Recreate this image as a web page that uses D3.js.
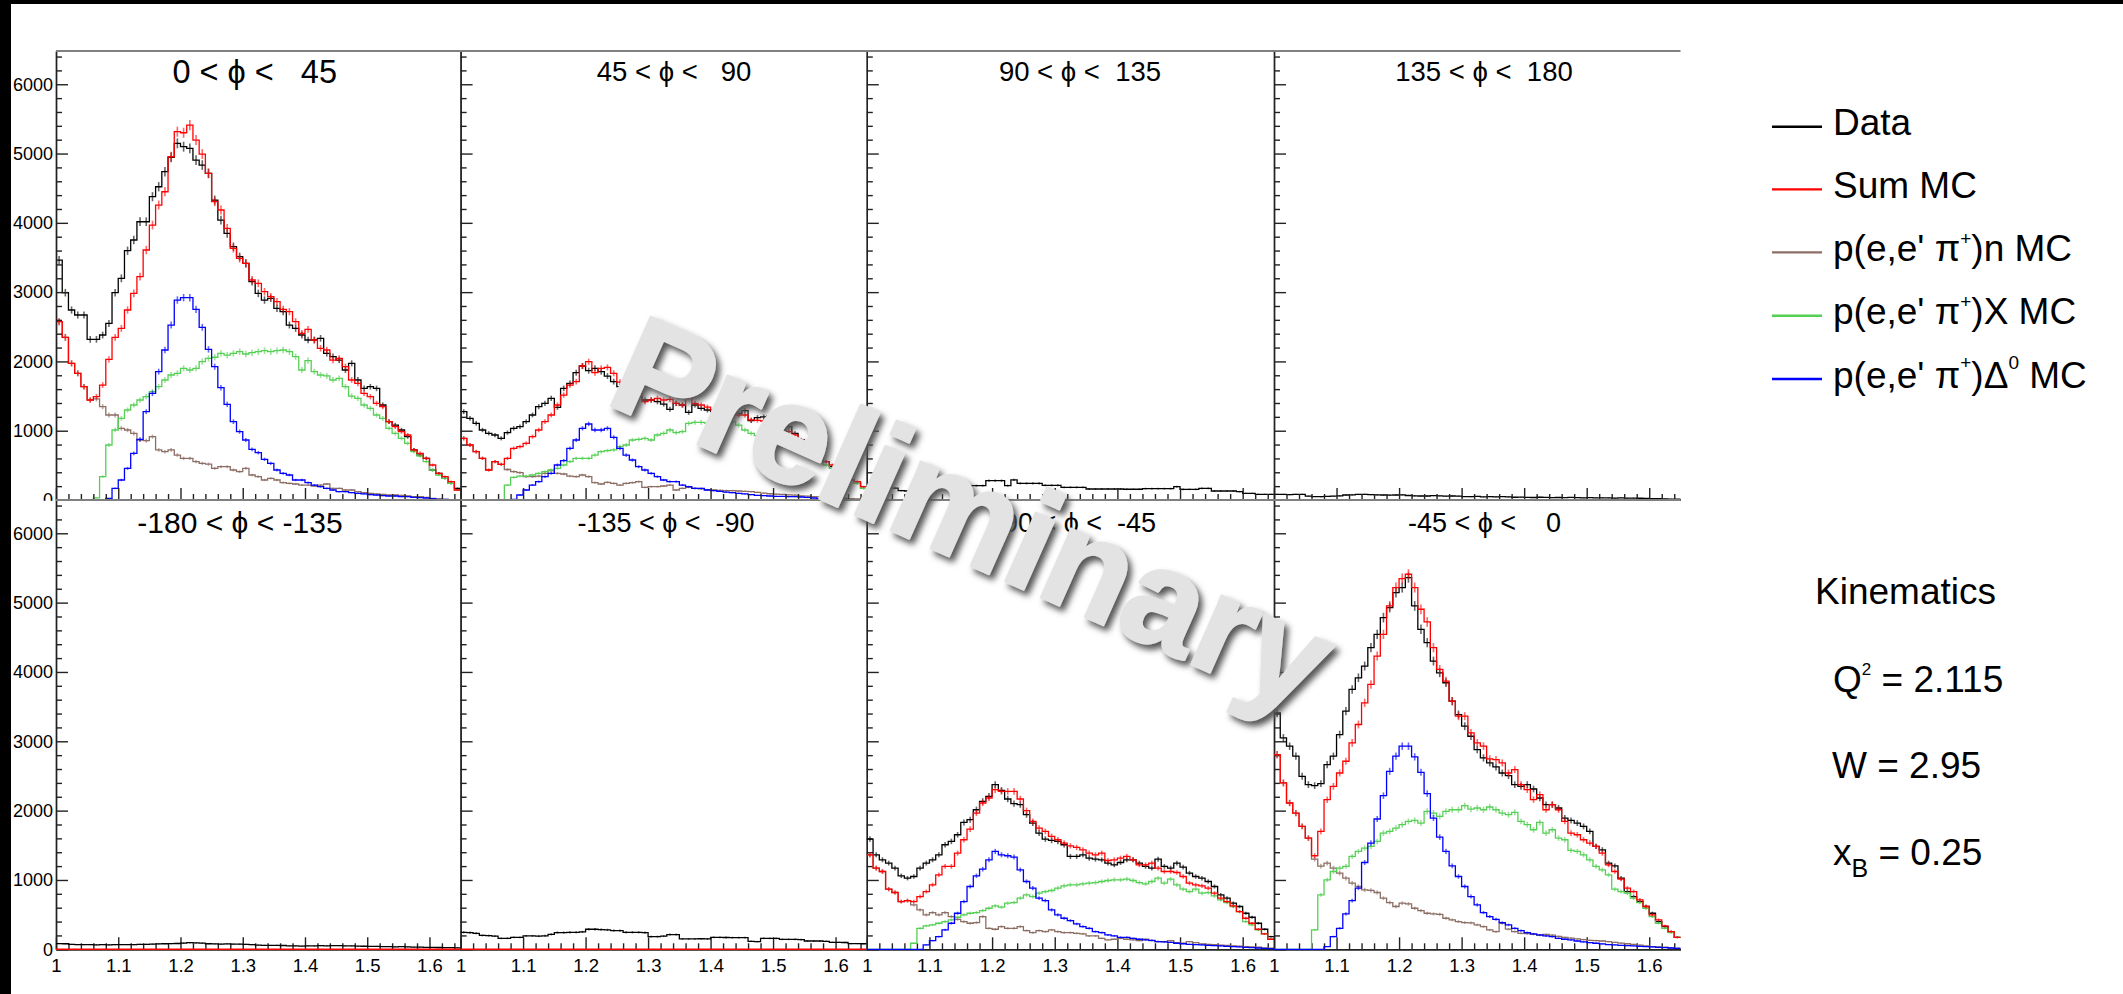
<!DOCTYPE html>
<html>
<head>
<meta charset="utf-8">
<script src="https://d3js.org/d3.v7.min.js"></script>
<style>
  body { margin: 0; background: #fff; }
  svg { display: block; }
  text { font-family: "Liberation Sans", Arial, Helvetica, sans-serif; }
</style>
</head>
<body>
<div id="chart"></div>
<script>
// missing mass binning: 65 bins of 0.01 starting at 1.0
const xLow = 1.0, binW = 0.01, nBin = 65;
const yMax = 6480;

const phiTitles = ["0 < \u03d5 <   45", "45 < \u03d5 <   90", "90 < \u03d5 <  135", "135 < \u03d5 <  180",
                   "-180 < \u03d5 < -135", "-135 < \u03d5 <  -90", "-90 < \u03d5 <  -45", "-45 < \u03d5 <    0"];

const yTicks = [0, 1000, 2000, 3000, 4000, 5000, 6000];
const xTicks = [1, 1.1, 1.2, 1.3, 1.4, 1.5, 1.6];

// 0 < phi < 45
const data_0_45 = [3463,2992,2742,2670,2670,2318,2318,2381,2549,2992,3199,3598,3752,4016,4016,4377,4521,4738,4945,5147,5099,5075,4906,4834,4714,4329,4040,3848,3656,3511,3415,3151,2982,2886,2910,2766,2718,2525,2477,2381,2309,2309,2333,2116,2068,2020,1876,1972,1732,1611,1635,1611,1371,1130,1082,1010,914,722,649,601,433,385,313,240,168];
const sum_0_45 = [2573,2347,1972,1828,1635,1443,1491,1659,2030,2347,2477,2742,2982,3223,3608,3968,4257,4449,4954,5315,5300,5411,5195,4993,4714,4305,4185,3920,3632,3487,3415,3175,3127,3006,2934,2862,2751,2718,2573,2405,2463,2309,2189,2165,2020,2044,1924,1732,1684,1539,1491,1395,1347,1130,1058,986,938,722,673,601,505,385,337,265,144];
const n_0_45 = [2573,2347,1972,1828,1635,1443,1460,1347,1227,1227,1034,1010,962,866,856,914,722,697,722,649,601,601,553,529,519,457,481,481,433,409,457,361,337,289,313,289,250,240,231,216,216,202,216,231,168,168,144,144,120,106,96,87,82,72,72,67,58,48,48,38,24,15,10,5,3];
const X_0_45 = [0,0,0,0,0,0,30,337,794,1010,1178,1299,1371,1443,1491,1563,1635,1732,1804,1828,1900,1876,1900,1996,2044,2060,2116,2092,2116,2140,2107,2126,2140,2155,2140,2155,2165,2140,2068,1876,2011,1852,1804,1790,1732,1756,1635,1500,1467,1371,1323,1227,1178,1034,962,890,818,697,635,553,433,361,313,240,144];
const delta_0_45 = [0,0,0,0,0,0,0,0,24,168,289,457,673,875,1275,1539,1852,2165,2525,2886,2920,2920,2751,2492,2174,1924,1621,1380,1130,986,866,731,683,587,529,433,385,361,289,289,250,216,192,168,144,120,120,106,96,87,77,72,63,58,58,48,48,38,34,29,19,10,10,5,5];

// 45 < phi < 90
const data_45_90 = [1275,1178,1106,1010,962,938,890,972,1034,1058,1130,1227,1347,1395,1467,1337,1611,1684,1837,1934,1866,1900,1852,1789,1708,1635,1563,1587,1491,1443,1443,1419,1385,1308,1395,1371,1265,1371,1323,1299,1275,1275,1308,1299,1251,1289,1145,1190,1200,1210,1203,1130,1058,962,866,794,722,649,553,481,409,361,289,240,168];
const sum_45_90 = [890,794,697,601,433,553,515,601,746,770,818,914,1010,1130,1227,1371,1515,1659,1708,1934,1996,1837,1900,1914,1828,1700,1640,1611,1587,1419,1443,1467,1443,1452,1395,1371,1491,1395,1371,1340,1300,1251,1323,1337,1227,1227,1155,1150,1140,1160,1116,1068,986,938,860,790,674,625,553,505,385,337,289,265,192];
const n_45_90 = [890,794,697,601,433,553,515,440,409,394,337,337,346,385,423,385,375,346,337,361,337,250,231,255,240,216,240,250,264,183,192,192,202,216,144,168,183,168,160,150,145,140,135,135,130,125,120,110,100,90,85,80,75,70,60,55,50,45,40,35,30,25,20,15,10];
const X_45_90 = [0,0,0,0,0,0,0,216,327,346,346,361,385,409,433,457,505,553,601,601,601,649,697,712,722,770,794,866,875,890,866,938,962,1010,972,986,1106,1120,1120,1110,1080,1034,1116,1130,1082,1010,962,930,900,870,840,800,760,720,680,640,601,587,505,457,361,313,289,240,168];
const delta_45_90 = [0,0,0,0,0,0,0,0,10,72,144,216,265,337,385,505,568,746,866,1034,1097,1010,1010,1034,904,746,649,577,481,433,385,337,289,265,265,216,192,168,168,144,135,125,115,106,96,87,77,67,63,58,53,53,48,48,43,38,29,19,14,14,10,10,5,5,3];

// 90 < phi < 135 and 135 < phi < 180: data only
const data_90_135 = [180,175,178,175,172,135,130,135,130,135,140,180,190,195,190,185,207,207,207,279,279,279,207,290,240,240,240,240,212,212,212,183,183,183,183,159,159,159,159,159,159,155,155,155,164,164,164,164,164,192,154,154,154,168,168,130,130,130,130,120,96,96,82,82,82];
const data_135_180 = [82,80,78,82,80,55,50,48,52,55,60,72,75,80,82,78,75,72,70,72,74,65,60,58,58,62,60,55,58,56,50,48,52,45,48,46,50,44,40,42,38,36,40,38,35,36,34,38,34,32,34,30,32,30,28,30,26,28,25,22,20,18,16,14,12];

// -180 < phi < -135 and -135 < phi < -90: data only
const data_m180_m135 = [82,80,70,68,66,67,65,68,64,66,68,67,66,70,72,75,78,80,82,84,90,95,92,88,80,78,76,77,75,74,72,66,60,58,56,58,55,50,48,47,50,48,52,50,54,52,50,48,45,44,42,43,40,38,36,38,34,32,30,28,27,26,25,24,22];
const data_m135_m90 = [245,240,231,200,197,190,159,159,173,173,193,193,190,195,215,241,241,245,245,250,289,289,285,280,270,270,245,245,245,240,183,183,190,212,212,149,149,149,152,149,173,173,170,168,168,168,115,111,159,159,159,144,144,144,140,120,120,120,115,101,101,98,82,82,80];

// -90 < phi < -45
const data_m90_m45 = [1590,1363,1291,1243,1171,1060,1026,1050,1171,1243,1291,1363,1508,1556,1652,1830,1869,2013,2134,2206,2375,2293,2168,2100,2086,1941,1821,1676,1590,1570,1556,1508,1339,1339,1363,1315,1300,1291,1243,1219,1252,1291,1291,1243,1195,1171,1300,1195,1171,1243,1185,1098,1050,1026,978,906,785,737,665,617,520,462,376,289,183];
const sum_m90_m45 = [1363,1171,1122,867,819,689,703,689,761,833,930,1074,1195,1195,1387,1580,1734,1965,2110,2182,2302,2278,2278,2278,2168,1999,1845,1749,1700,1628,1580,1532,1493,1469,1435,1387,1363,1387,1281,1291,1315,1339,1291,1219,1219,1243,1171,1122,1122,1108,1050,954,930,915,882,809,737,689,626,544,448,376,289,222,145];
const n_m90_m45 = [1363,1171,1122,867,819,689,703,641,568,496,530,496,530,472,433,400,376,386,472,303,289,328,303,303,328,270,241,270,255,279,255,241,241,231,222,193,193,159,135,145,159,145,135,125,145,125,111,111,125,96,87,111,96,77,72,67,60,55,50,45,40,35,30,20,15];
const X_m90_m45 = [0,0,0,0,0,0,0,87,303,337,352,376,400,424,462,496,520,530,559,592,626,607,665,674,737,785,761,809,833,848,882,915,930,930,944,954,963,978,992,1002,1002,1012,992,963,944,978,1026,954,1012,930,867,833,867,809,818,771,713,674,617,544,400,352,279,222,145];
const delta_m90_m45 = [0,0,0,0,0,0,0,0,0,63,125,183,279,376,520,689,906,1060,1156,1291,1411,1363,1349,1330,1146,978,882,737,703,568,496,448,414,366,328,303,255,241,207,193,173,173,159,145,135,130,111,106,100,87,80,72,68,63,58,53,48,43,38,34,29,24,19,14,10];

// -45 < phi < 0
const data_m45_0 = [3410,3049,2929,2785,2495,2375,2360,2389,2664,2785,3097,3435,3748,3916,4085,4350,4542,4783,4928,5144,5217,5361,4952,4615,4422,4157,3988,3844,3579,3386,3218,3073,2881,2760,2688,2630,2543,2505,2375,2351,2375,2312,2182,2086,2086,2038,1893,1859,1821,1773,1700,1484,1435,1243,1204,1026,833,761,689,617,520,400,328,255,173];
const sum_m45_0 = [2808,2399,2110,1965,1773,1604,1349,1700,2158,2351,2543,2712,2977,3242,3555,3820,4229,4542,4952,5217,5347,5409,5217,4904,4721,4350,4037,3868,3579,3362,3362,3121,2977,2929,2746,2736,2688,2543,2592,2375,2302,2158,2230,2013,2086,2013,1845,1676,1652,1580,1532,1484,1387,1219,1122,1012,882,833,713,617,496,424,337,255,173];
const n_m45_0 = [2808,2399,2110,1965,1773,1604,1300,1200,1243,1171,1098,1026,954,906,857,850,819,737,674,617,665,655,592,559,520,511,505,448,424,400,385,380,352,328,279,255,376,290,255,231,225,215,200,215,205,185,170,160,150,140,130,125,120,110,100,90,80,70,60,50,40,35,30,20,15];
const X_m45_0 = [0,0,0,0,0,0,279,785,1002,1122,1171,1195,1339,1411,1460,1484,1556,1676,1700,1749,1797,1845,1859,1821,1989,1965,1917,1989,2013,2013,2071,2023,2038,2013,2052,2013,1965,1941,1975,1845,1797,1724,1830,1676,1724,1604,1580,1426,1411,1363,1291,1195,1146,1074,867,833,809,737,674,592,472,376,303,241,173];
const delta_m45_0 = [0,0,0,0,0,0,0,0,39,183,303,511,703,882,1252,1532,1879,2216,2567,2785,2929,2929,2775,2553,2245,1893,1619,1411,1204,1050,906,761,641,530,472,433,385,352,303,270,241,222,207,193,183,159,145,135,120,106,96,87,77,67,63,58,53,48,43,38,34,29,24,19,14];

const legendLabels = ["Data", "Sum MC", "p(e,e' \u03c0^{+})n MC", "p(e,e' \u03c0^{+})X MC", "p(e,e' \u03c0^{+})\u0394^{0} MC"];
const legendColors = ["#000000", "#ff0000", "#8c6e64", "#55d055", "#0000ff"];
const kinematicsLines = ["Kinematics", "Q^{2} = 2.115", "W = 2.95", "x_{B} = 0.25"];

const panels = [
  { title: phiTitles[0], data: data_0_45, mc: [sum_0_45, n_0_45, X_0_45, delta_0_45] },
  { title: phiTitles[1], data: data_45_90, mc: [sum_45_90, n_45_90, X_45_90, delta_45_90] },
  { title: phiTitles[2], data: data_90_135, mc: null },
  { title: phiTitles[3], data: data_135_180, mc: null },
  { title: phiTitles[4], data: data_m180_m135, mc: null },
  { title: phiTitles[5], data: data_m135_m90, mc: null },
  { title: phiTitles[6], data: data_m90_m45, mc: [sum_m90_m45, n_m90_m45, X_m90_m45, delta_m90_m45] },
  { title: phiTitles[7], data: data_m45_0, mc: [sum_m45_0, n_m45_0, X_m45_0, delta_m45_0] }
];

// layout
const W = 2123, H = 994;
const colLeft = [56, 460.6, 866.8, 1274, 1680.5];
const rowTop = [51, 500], rowBot = [500, 949.3];
const titleX = [254.7, 674, 1080, 1484, 240, 666, 1075, 1484.5];
const titleY = [83.3, 80.7, 80.7, 80.7, 533.3, 531.7, 531.7, 531.7];
const titleSize = [32.5, 27.5, 27.5, 27.5, 30, 27, 27, 27];
const axisColor = "#222";
// sum MC goes on top of its components
const drawOrder = [1, 2, 3, 0];

const svg = d3.select('#chart')
  .append('svg')
  .attr('width', W)
  .attr('height', H);

svg.append('rect').attr('width', W).attr('height', H).attr('fill', '#fff');

// TLatex-ish: ^{..} superscript, _{..} subscript
function latex(textSel, str, supSize, supShift, subSize, subShift) {
  const parts = str.split(/(\^\{[^}]*\}|_\{[^}]*\})/).filter(s => s.length);
  let back = 0;
  parts.forEach(s => {
    if (s.startsWith('^{')) {
      textSel.append('tspan').attr('dy', back - supShift).style('font-size', supSize + 'px').text(s.slice(2, -1));
      back = supShift;
    } else if (s.startsWith('_{')) {
      textSel.append('tspan').attr('dy', back + subShift).style('font-size', subSize + 'px').text(s.slice(2, -1));
      back = -subShift;
    } else {
      textSel.append('tspan').attr('dy', back).text(s);
      back = 0;
    }
  });
}

function histPath(vals, x, y) {
  const pts = vals.map((v, i) => [x(xLow + i * binW), y(v)]);
  pts.push([x(xLow + nBin * binW), y(vals[nBin - 1])]);
  return d3.line().curve(d3.curveStepAfter)(pts);
}

function drawHist(g, vals, color, x, y) {
  g.append('path')
    .attr('d', histPath(vals, x, y))
    .attr('fill', 'none')
    .attr('stroke', color)
    .attr('stroke-width', 1.3);
  g.selectAll(null)
    .data(vals.map((v, i) => ({ v: v, i: i })).filter(d => d.v > 0))
    .enter()
    .append('line')
    .attr('x1', d => x(xLow + (d.i + 0.5) * binW))
    .attr('x2', d => x(xLow + (d.i + 0.5) * binW))
    .attr('y1', d => y(d.v + Math.sqrt(d.v)))
    .attr('y2', d => y(d.v - Math.sqrt(d.v)))
    .attr('stroke', color)
    .attr('stroke-opacity', 0.6)
    .attr('stroke-width', 1.6);
}

function drawPanel(p, idx) {
  const col = idx % 4, row = Math.floor(idx / 4);
  const x = d3.scaleLinear().domain([xLow, xLow + nBin * binW]).range([colLeft[col], colLeft[col + 1]]);
  const y = d3.scaleLinear().domain([0, yMax]).range([rowBot[row], rowTop[row]]);
  const g = svg.append('g');

  const drawAxes = () => {
    const minorY = d3.range(0, yMax + 1, 200).filter(v => v % 1000 !== 0);
    const minorX = d3.range(0, 66, 2).map(k => xLow + k * 0.01).filter(v => Math.round(v * 100) % 10 !== 0);
    g.append('g').attr('transform', `translate(${colLeft[col]},0)`)
      .call(d3.axisRight(y).tickValues(minorY).tickSize(6).tickSizeOuter(0).tickFormat(''));
    g.append('g').attr('transform', `translate(${colLeft[col]},0)`)
      .call(d3.axisRight(y).tickValues(yTicks).tickSize(12).tickSizeOuter(0).tickFormat(''));
    g.append('g').attr('transform', `translate(0,${rowBot[row]})`)
      .call(d3.axisTop(x).tickValues(minorX).tickSize(6).tickSizeOuter(0).tickFormat(''));
    g.append('g').attr('transform', `translate(0,${rowBot[row]})`)
      .call(d3.axisTop(x).tickValues(xTicks).tickSize(12).tickSizeOuter(0).tickFormat(''));
    g.selectAll('.domain, .tick line').attr('stroke', axisColor).attr('stroke-width', 1.4);
    // top frame
    g.append('line')
      .attr('x1', colLeft[col]).attr('x2', colLeft[col + 1])
      .attr('y1', rowTop[row]).attr('y2', rowTop[row])
      .attr('stroke', '#808080').attr('stroke-width', 2);
  };

  const drawHists = () => {
    drawHist(g, p.data, legendColors[0], x, y);
    if (p.mc) {
      drawOrder.forEach(k => drawHist(g, p.mc[k], legendColors[k + 1], x, y));
    } else {
      // empty Monte Carlo sum sits on zero
      g.append('line')
        .attr('x1', x(xLow)).attr('x2', x(xLow + nBin * binW))
        .attr('y1', y(0)).attr('y2', y(0))
        .attr('stroke', legendColors[1]).attr('stroke-width', 1.6);
    }
  };

  if (row === 0) { drawHists(); drawAxes(); } else { drawAxes(); drawHists(); }

  // x labels only on bottom row
  if (row === 1) {
    const ax = g.append('g').attr('transform', `translate(0,${rowBot[row]})`)
      .call(d3.axisBottom(x).tickValues(xTicks).tickSize(0).tickPadding(9.6).tickFormat(d3.format('.1~f')));
    ax.select('.domain').remove();
    ax.selectAll('text').style('font-size', '18.5px').attr('fill', '#000');
  }
  // y labels only in first column
  if (col === 0) {
    const ay = g.append('g').attr('transform', `translate(${colLeft[0]},0)`)
      .call(d3.axisLeft(y).tickValues(yTicks).tickSize(0).tickPadding(3).tickFormat(d3.format('d')));
    ay.select('.domain').remove();
    ay.selectAll('text').style('font-size', '18px').attr('fill', '#000');
  }

  g.append('text')
    .attr('x', titleX[idx])
    .attr('y', titleY[idx])
    .attr('text-anchor', 'middle')
    .style('white-space', 'pre')
    .style('font-size', titleSize[idx] + 'px')
    .text(p.title);
}

panels.slice(0, 4).forEach((p, i) => drawPanel(p, i));
// bottom pads sit on top of the upper ones
svg.append('rect').attr('x', 11).attr('y', 500.8).attr('width', W - 11).attr('height', H - 500.8).attr('fill', '#fff');
panels.slice(4).forEach((p, i) => drawPanel(p, i + 4));

// legend
const legendY = [126.7, 189.4, 252.4, 315.7, 379];
const legend = svg.append('g');
legendLabels.forEach((lab, k) => {
  legend.append('line')
    .attr('x1', 1772).attr('x2', 1822)
    .attr('y1', legendY[k]).attr('y2', legendY[k])
    .attr('stroke', legendColors[k]).attr('stroke-width', 2.4);
  const t = legend.append('text')
    .attr('x', 1833).attr('y', legendY[k] + 8.5)
    .style('font-size', '37px');
  latex(t, lab, 19, k === 4 ? 19 : 16, 17, 10);
});

// kinematics block
const kinX = [1815, 1833, 1832, 1833];
const kinY = [604, 692, 778, 865];
kinematicsLines.forEach((s, k) => {
  const t = svg.append('text').attr('x', kinX[k]).attr('y', kinY[k]).style('font-size', '37px');
  latex(t, s, 17, 17, 25, 12);
});

// frame edges of the canvas
svg.append('rect').attr('x', 0).attr('y', 0).attr('width', 11).attr('height', H).attr('fill', '#000');
svg.append('rect').attr('x', 0).attr('y', 0).attr('width', W).attr('height', 4).attr('fill', '#000');

// Preliminary watermark
const defs = svg.append('defs');
const f = defs.append('filter').attr('id', 'wm').attr('x', '-10%').attr('y', '-10%').attr('width', '120%').attr('height', '120%');
f.append('feGaussianBlur').attr('in', 'SourceAlpha').attr('stdDeviation', 3).attr('result', 'b');
f.append('feOffset').attr('in', 'b').attr('dx', 4).attr('dy', 5).attr('result', 'o');
f.append('feFlood').attr('flood-color', '#555555').attr('result', 'c');
f.append('feComposite').attr('in', 'c').attr('in2', 'o').attr('operator', 'in').attr('result', 's');
const m = f.append('feMerge');
m.append('feMergeNode').attr('in', 's');
m.append('feMergeNode').attr('in', 'SourceGraphic');

svg.append('g')
  .attr('filter', 'url(#wm)')
  .append('text')
  .attr('transform', 'translate(603,402) rotate(24)')
  .style('font-size', '141px')
  .style('font-weight', 'bold')
  .attr('fill', '#e3e3e3')
  .attr('stroke', '#e3e3e3')
  .attr('stroke-width', 3)
  .attr('stroke-linejoin', 'round')
  .text('Preliminary');
</script>
</body>
</html>
